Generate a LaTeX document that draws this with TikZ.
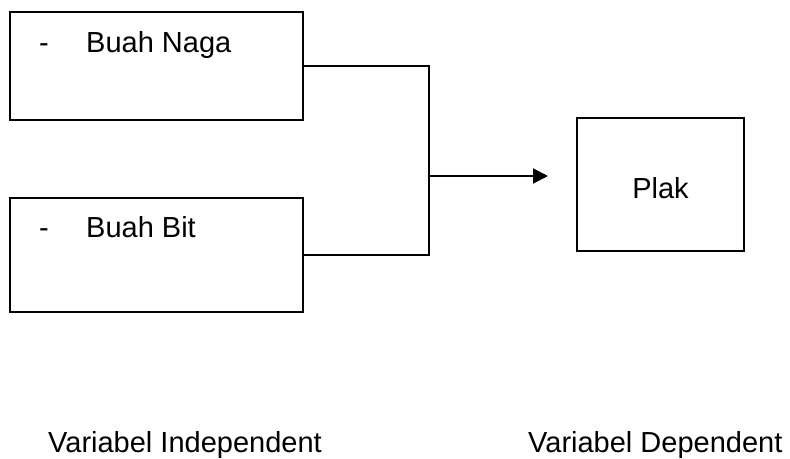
\documentclass[tikz,border=0pt]{standalone}
\usepackage{fontspec}
\setmainfont{Liberation Sans}
\usetikzlibrary{arrows.meta}
\begin{document}
\begin{tikzpicture}[x=1pt,y=-1pt,
  boxstyle/.style={draw=black,line width=2pt,rectangle,inner sep=0pt},
  txt/.style={inner sep=0pt,font=\fontsize{29}{34}\selectfont},
  conn/.style={draw=black,line width=2pt}]
\useasboundingbox (0,0) rectangle (790,458);
\node[boxstyle,minimum width=293pt,minimum height=108pt] (b1) at (156.5,66) {};
\node[boxstyle,minimum width=293pt,minimum height=114pt] (b2) at (156.5,255) {};
\node[boxstyle,minimum width=167pt,minimum height=133pt] (plak) at (660.5,184.5) {};
\node[txt,anchor=base west] (d1) at (39,52) {-};
\node[txt,anchor=base west] (t1) at (86,52) {Buah Naga};
\node[txt,anchor=base west] (d2) at (39,237) {-};
\node[txt,anchor=base west] (t2) at (86,237) {Buah Bit};
\node[txt,anchor=base] (tp) at (660.5,198) {Plak};
\node[txt,anchor=base west] (li) at (48,452) {Variabel Independent};
\node[txt,anchor=base west] (ld) at (528,452) {Variabel Dependent};
\coordinate (j) at (429,176);
\coordinate (tip) at (548,176);
\draw[conn] (b1.east) -| (j) |- (b2.east);
\draw[conn,-{Triangle[length=15pt,width=15pt]}] (j) -- (tip);
\end{tikzpicture}
\end{document}
